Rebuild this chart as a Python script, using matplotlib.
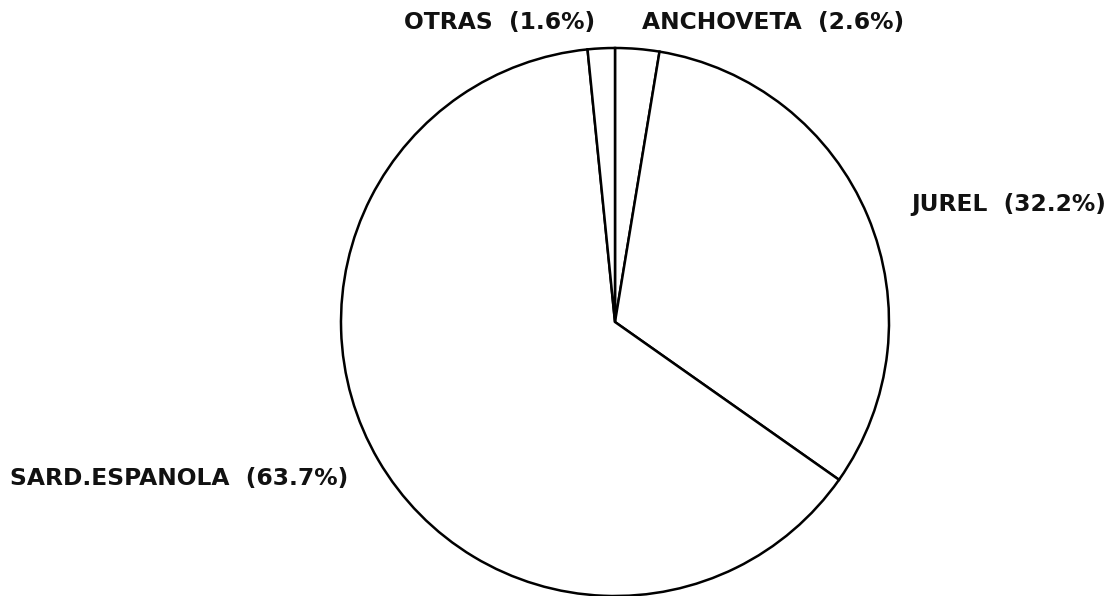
import matplotlib
matplotlib.use("Agg")
import matplotlib.pyplot as plt

# Data (order drawn clockwise from 12 o'clock)
categories = ["ANCHOVETA", "JUREL", "SARD.ESPANOLA", "OTRAS"]
shares = [2.6, 32.2, 63.7, 1.6]
labels = [f"{c}  ({v:.1f}%)" for c, v in zip(categories, shares)]

W, H = 1113, 596
fig = plt.figure(figsize=(W / 100, H / 100), dpi=100)
fig.patch.set_facecolor("white")

# pie centre (615, 322) px from top-left, radius 274 px
cx, cy, r = 615, 322, 274
ax = fig.add_axes([(cx - r) / W, (H - cy - r) / H, 2 * r / W, 2 * r / H])
ax.pie(shares, startangle=90, counterclock=False, radius=1.0,
       colors=["white"] * len(shares),
       wedgeprops=dict(edgecolor="black", linewidth=1.8))
ax.set_xlim(-1, 1)
ax.set_ylim(-1, 1)
ax.set_aspect("equal")
ax.axis("off")

# label placement (pixels from top-left): x, y, horizontal alignment
label_pos = {
    "ANCHOVETA": (642, 22, "left"),
    "JUREL": (1106, 204, "right"),
    "SARD.ESPANOLA": (10, 478, "left"),
    "OTRAS": (595, 22, "right"),
}
for cat, lab in zip(categories, labels):
    x, y, ha = label_pos[cat]
    fig.text(x / W, 1 - y / H, lab, ha=ha, va="center",
             fontsize=16.8, fontweight="bold", family="DejaVu Sans",
             color="#111111")

fig.savefig("out.png", dpi=100, facecolor="white")
